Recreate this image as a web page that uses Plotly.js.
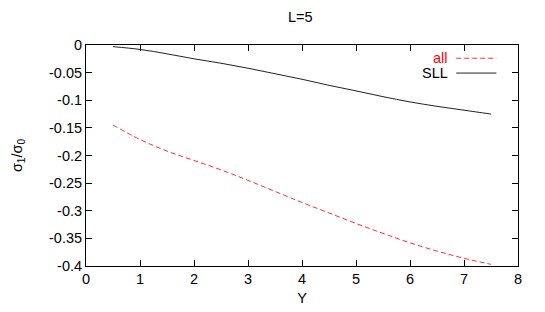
<!DOCTYPE html>
<html><head><meta charset="utf-8">
<script src="https://cdn.plot.ly/plotly-3.0.1.min.js"></script>
<style>html,body{margin:0;padding:0;background:#fff}#c{width:545px;height:312px}</style>
</head><body><div id="c"></div>
<script>
const yGrid = [0.5, 1, 1.5, 2, 2.5, 3, 3.5, 4, 4.5, 5, 5.5, 6, 6.5, 7, 7.5];
const sigmaAll = [-0.145, -0.171, -0.192, -0.209, -0.226, -0.245, -0.265, -0.285, -0.304, -0.323, -0.341, -0.358, -0.373, -0.386, -0.397];
const sigmaSLL = [-0.003, -0.008, -0.016, -0.025, -0.033, -0.042, -0.052, -0.062, -0.073, -0.083, -0.0935, -0.103, -0.111, -0.118, -0.125];
const xTickVals = [0, 1, 2, 3, 4, 5, 6, 7, 8];
const yTickVals = [0, -0.05, -0.1, -0.15, -0.2, -0.25, -0.3, -0.35, -0.4];
const yTickText = ['0', '-0.05', '-0.1', '-0.15', '-0.2', '-0.25', '-0.3', '-0.35', '-0.4'];
const seriesNames = ['all', 'SLL'];

const font = {family: 'Liberation Sans, Arial, sans-serif', size: 14.5, color: '#000'};
const traces = [
  {x: yGrid, y: sigmaAll, mode: 'lines', name: seriesNames[0], line: {color: '#ff3030', width: 1, dash: '5px,3px', shape: 'spline', smoothing: 1}},
  {x: yGrid, y: sigmaSLL, mode: 'lines', name: seriesNames[1], line: {color: '#222', width: 1, shape: 'spline', smoothing: 1}}
];
const axisCommon = {showline: true, mirror: 'ticks', linecolor: '#000', linewidth: 1, ticks: 'inside', ticklen: 6, tickcolor: '#000', showgrid: false, zeroline: false, tickfont: font};
const layout = {
  width: 545, height: 312,
  margin: {l: 86, r: 27, t: 45, b: 46},
  paper_bgcolor: '#fff', plot_bgcolor: '#fff',
  showlegend: false,
  font: font,
  title: {text: 'L=5', font: font, x: 0.551, xanchor: 'center', y: 0.945, yanchor: 'middle'},
  xaxis: Object.assign({}, axisCommon, {range: [0, 8], tickvals: xTickVals, title: {text: 'Y', font: font, standoff: 6}}),
  yaxis: Object.assign({}, axisCommon, {range: [-0.4, 0], tickvals: yTickVals, ticktext: yTickText, title: {text: 'σ<sub>1</sub>/σ<sub>0</sub>', font: font, standoff: 22}}),
  annotations: [
    {xref: 'paper', yref: 'paper', x: 0.842, y: 0.94, xanchor: 'right', yanchor: 'middle', text: seriesNames[0], showarrow: false, font: {family: font.family, size: font.size, color: '#ff0000'}},
    {xref: 'paper', yref: 'paper', x: 0.842, y: 0.873, xanchor: 'right', yanchor: 'middle', text: seriesNames[1], showarrow: false, font: font}
  ],
  shapes: [
    {type: 'line', xref: 'paper', yref: 'paper', x0: 0.857, x1: 0.95, y0: 0.94, y1: 0.94, line: {color: '#ff3030', width: 1, dash: '5px,3px'}},
    {type: 'line', xref: 'paper', yref: 'paper', x0: 0.857, x1: 0.95, y0: 0.873, y1: 0.873, line: {color: '#222', width: 1}}
  ]
};
Plotly.newPlot('c', traces, layout, {staticPlot: true});
</script></body></html>
